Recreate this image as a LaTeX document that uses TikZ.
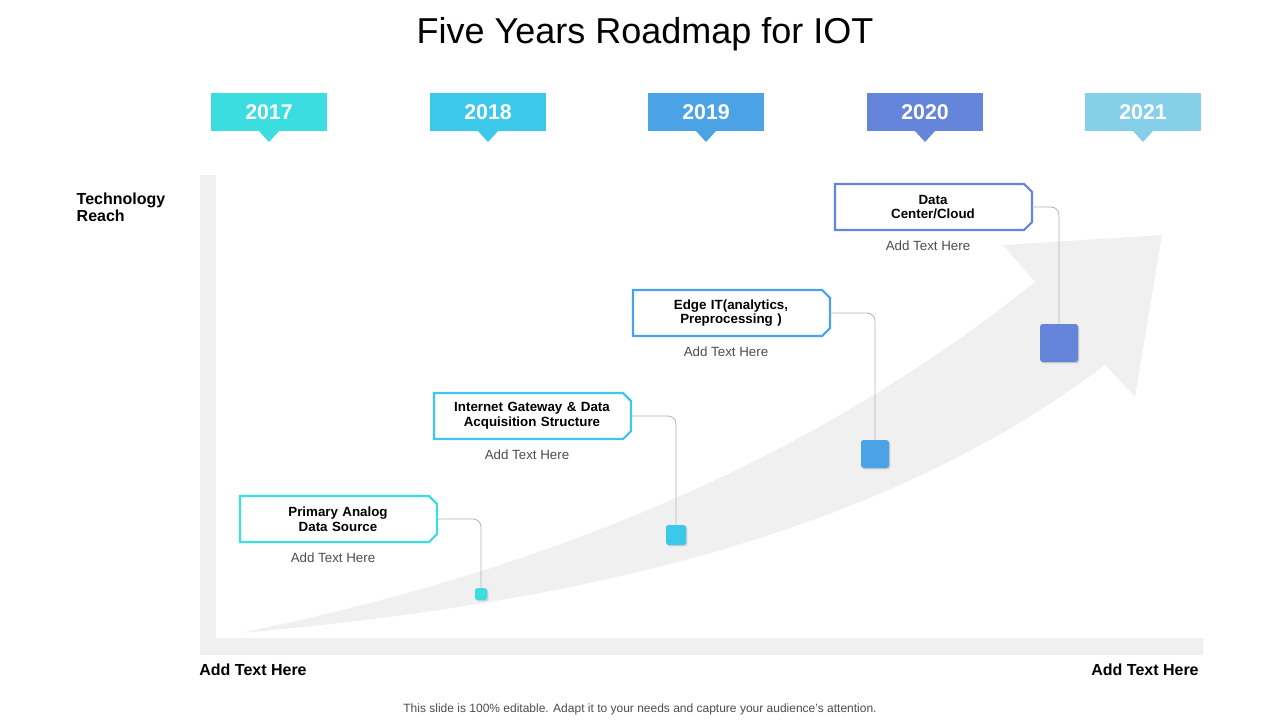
\documentclass[tikz,border=0pt]{standalone}
\usepackage{fontspec}
\setmainfont{Liberation Sans}
\definecolor{ylA}{HTML}{3BDDE0}
\definecolor{ylB}{HTML}{3CC8E8}
\definecolor{ylC}{HTML}{4BA3E6}
\definecolor{ylD}{HTML}{6585DA}
\definecolor{ylE}{HTML}{85CFE8}
\definecolor{axisgray}{HTML}{F0F0F0}
\tikzset{
  yeartag/.style={fill=#1,text=white,font=\bfseries\fontsize{16}{16}\selectfont,minimum width=87pt,minimum height=29pt,inner sep=0pt},
  stagetext/.style={font=\bfseries\fontsize{10}{11}\selectfont,align=center,text width=140pt},
  addtext/.style={font=\fontsize{10}{10}\selectfont,text=black!70},
  link/.style={draw=black!30,line width=0.6pt,rounded corners=6pt},
  stagesq/.style={fill=#1,draw=none,rounded corners=2pt,drop shadow={opacity=0.3,shadow xshift=1pt,shadow yshift=-1pt}},
}
\usetikzlibrary{shadows}
\begin{document}
\begin{tikzpicture}[x=0.75pt,y=-0.75pt]
\useasboundingbox (0,0) rectangle (1280,720);
%title
\node (title) at (645,34) {\fontsize{27}{27}\selectfont Five Years Roadmap for IOT};

%year tags
\foreach \yr/\xc/\col in {2017/269/ylA,2018/488/ylB,2019/706/ylC,2020/925/ylD,2021/1143/ylE}{
  \fill[\col] (\xc-10,131) -- (\xc,142) -- (\xc+10,131) -- cycle;
  \node[yeartag=\col] (year\yr) at (\xc,112) {\yr};
}

%axes
\fill[axisgray] (200,175) rectangle (216,655);
\fill[axisgray] (200,638) rectangle (1203,655);
\node[font=\bfseries\fontsize{12}{13}\selectfont,align=left,anchor=north west] (ylabel) at (72,188) {Technology\\Reach};
\node[font=\bfseries\fontsize{12}{12}\selectfont] (xleft) at (253,670) {Add Text Here};
\node[font=\bfseries\fontsize{12}{12}\selectfont] (xright) at (1145,670) {Add Text Here};

%growth arrow
\fill[axisgray] (240,633) .. controls (600,560) and (850,430) .. (1035,282)
  -- (1003,245) -- (1162,235) -- (1135,397) -- (1105,365)
  .. controls (900,520) and (620,600) .. (240,633) -- cycle;

%stages
\foreach \n/\xl/\yt/\xs/\ys/\sz/\col/\txt in {
  1/240/496/481/594/12/ylA/{Primary Analog\\Data Source},
  2/434/393/676/535/20/ylB/{Internet Gateway \& Data\\Acquisition Structure},
  3/633/290/875/454/28/ylC/{Edge IT(analytics,\\Preprocessing )},
  4/835/184/1059/343/38/ylD/{Data\\Center/Cloud}}{
  \draw[\col,line width=1.6pt,fill=white] (\xl,\yt) -- (\xl+189,\yt) -- (\xl+197,\yt+8) -- (\xl+197,\yt+38) -- (\xl+189,\yt+46) -- (\xl,\yt+46) -- cycle;
  \node[stagetext] (stage\n) at (\xl+98,\yt+23) {\txt};
  \node[addtext] (note\n) at (\xl+93,\yt+62) {Add Text Here};
  \coordinate (link\n) at (\xl+197,\yt+23);
  \node[stagesq=\col,minimum size=\sz*0.75pt,inner sep=0pt] (square\n) at (\xs,\ys) {};
  \draw[link] (link\n) -| (square\n.north);
}

%footer
\node[font=\fontsize{9}{9}\selectfont,text=black!70] (footer) at (640,709) {This slide is 100\% editable. Adapt it to your needs and capture your audience's attention.};
\end{tikzpicture}
\end{document}
